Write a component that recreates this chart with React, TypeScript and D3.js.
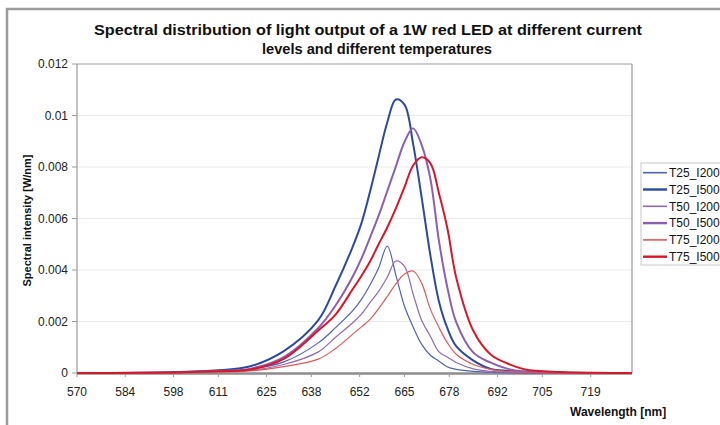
import React from 'react';
import * as d3 from 'd3';

// wavelength grid [nm] shared by all series
const wavelengths = [570, 590, 600, 610, 620, 630, 640, 645, 650, 652.5, 655, 657.5, 660, 662.5, 665, 667.5, 670, 672.5, 675, 677.5, 680, 685, 690, 695, 700, 710, 720, 731];

// spectral intensity [W/nm]
const t25I200 = [0, 0, 0.00001, 0.00006, 0.00014, 0.00043, 0.00117, 0.00176, 0.00242, 0.00286, 0.00342, 0.00408, 0.00493, 0.0038, 0.00259, 0.00179, 0.00111, 0.00069, 0.00046, 0.00023, 0.00014, 0.00006, 0.00003, 0.00001, 0, 0, 0, 0];
const t25I500 = [0, 0.00001, 0.00004, 0.0001, 0.00025, 0.00085, 0.00205, 0.00338, 0.00491, 0.00581, 0.00704, 0.0084, 0.00973, 0.01062, 0.01042, 0.0089, 0.0068, 0.00458, 0.00278, 0.00172, 0.00104, 0.00048, 0.00016, 0.00008, 0.00003, 0.00001, 0, 0];
const t50I200 = [0, 0, 0.00001, 0.00004, 0.0001, 0.00033, 0.00082, 0.00139, 0.00195, 0.00229, 0.00273, 0.00317, 0.00372, 0.00435, 0.00414, 0.00307, 0.00204, 0.00143, 0.00082, 0.00061, 0.00041, 0.00016, 0.00006, 0.00002, 0.00001, 0, 0, 0];
const t50I500 = [0, 0.00001, 0.00003, 0.00008, 0.00016, 0.00062, 0.00175, 0.00262, 0.00375, 0.00444, 0.00526, 0.00611, 0.00706, 0.00802, 0.00897, 0.0095, 0.00885, 0.00755, 0.00513, 0.00328, 0.00198, 0.00079, 0.0004, 0.00016, 0.00006, 0.00001, 0, 0];
const t75I200 = [0, 0, 0.00001, 0.00003, 0.00008, 0.00025, 0.00054, 0.00095, 0.00151, 0.00179, 0.00208, 0.0025, 0.00297, 0.00346, 0.00384, 0.00396, 0.00348, 0.00248, 0.00177, 0.00116, 0.00073, 0.00033, 0.00014, 0.00006, 0.00002, 0, 0, 0];
const t75I500 = [0, 0.00001, 0.00003, 0.00007, 0.00013, 0.00055, 0.00165, 0.00227, 0.00326, 0.00377, 0.00433, 0.005, 0.00565, 0.00639, 0.00722, 0.00806, 0.00838, 0.00815, 0.00698, 0.00558, 0.00371, 0.00163, 0.00072, 0.00036, 0.00014, 0.00004, 0.00001, 0];

const seriesNames = ['T25_I200', 'T25_I500', 'T50_I200', 'T50_I500', 'T75_I200', 'T75_I500'];
const seriesValues = [t25I200, t25I500, t50I200, t50I500, t75I200, t75I500];
const seriesColors = ['#4f63b3', '#2c4a9e', '#9168b2', '#8a5fb5', '#e2585a', '#d7182a'];
const seriesWidths = [1.2, 2, 1.2, 2, 1.2, 2];

const xTickLabels = [570, 584, 598, 611, 625, 638, 652, 665, 678, 692, 705, 719];
const yTickValues = [0, 0.002, 0.004, 0.006, 0.008, 0.01, 0.012];

const font = 'Liberation Sans, Arial, Helvetica, sans-serif';

export default function App() {
  const width = 720;
  const height = 425;
  const plot = { left: 77, top: 64, right: 632, bottom: 373 };

  const x = d3.scaleLinear().domain([570, 731]).range([plot.left, plot.right]);
  const y = d3.scaleLinear().domain([0, 0.012]).range([plot.bottom, plot.top]);

  const line = d3.line<number>()
    .x((_, i) => x(wavelengths[i]))
    .y(d => Math.min(y(d), plot.bottom))
    .curve(d3.curveCatmullRom.alpha(0.5));

  const legendX = 641;
  const legendY = 163;

  return (
    <svg width={width} height={height} style={{ position: 'absolute', left: 0, top: 0, display: 'block', background: '#fff' }} fontFamily={font}>
      {/* outer chart frame */}
      <rect x={7} y={9} width={740} height={440} fill="#fff" stroke="#9c9c9c" strokeWidth={2.5} />

      {/* title */}
      <text x={368} y={35} textAnchor="middle" fontSize={15.5} fontWeight="bold" fill="#111" textLength={548} lengthAdjust="spacingAndGlyphs">
        Spectral distribution of light output of a 1W red LED at different current
      </text>
      <text x={377} y={54} textAnchor="middle" fontSize={15.5} fontWeight="bold" fill="#111" textLength={230} lengthAdjust="spacingAndGlyphs">
        levels and different temperatures
      </text>

      {/* gridlines */}
      {yTickValues.filter(v => v > 0 && v < 0.012).map(v => (
        <line key={`g${v}`} x1={plot.left} x2={plot.right} y1={y(v)} y2={y(v)} stroke="#ebebeb" strokeWidth={1} />
      ))}

      {/* plot border */}
      <line x1={plot.left} x2={plot.right} y1={plot.top} y2={plot.top} stroke="#9a9a9a" strokeWidth={1.2} />
      <line x1={plot.right} x2={plot.right} y1={plot.top} y2={plot.bottom} stroke="#9a9a9a" strokeWidth={1.2} />
      <line x1={plot.left} x2={plot.left} y1={plot.top} y2={plot.bottom} stroke="#9a9a9a" strokeWidth={1.2} />

      {/* y axis */}
      {yTickValues.map(v => (
        <g key={`y${v}`}>
          <line x1={plot.left - 5} x2={plot.left} y1={y(v)} y2={y(v)} stroke="#9a9a9a" />
          <text x={68} y={y(v)} dy="0.35em" textAnchor="end" fontSize={12} fill="#222">{String(v)}</text>
        </g>
      ))}
      <text transform={`translate(31,${(plot.top + plot.bottom) / 2 + 2}) rotate(-90)`} textAnchor="middle" fontSize={11} fontWeight="bold" fill="#111">
        Spectral intensity [W/nm]
      </text>

      {/* x axis (drawn under the series, as in the original) */}
      <line x1={plot.left} x2={plot.right} y1={plot.bottom + 0.5} y2={plot.bottom + 0.5} stroke="#8c8c8c" strokeWidth={2.5} />
      {xTickLabels.map(v => (
        <g key={`x${v}`}>
          <line x1={x(v)} x2={x(v)} y1={plot.bottom} y2={plot.bottom + 4} stroke="#9a9a9a" />
          <text x={x(v)} y={396} textAnchor="middle" fontSize={12} fill="#222">{v}</text>
        </g>
      ))}
      <text x={570} y={416} fontSize={12} fontWeight="bold" fill="#111">Wavelength [nm]</text>

      {/* series */}
      {seriesValues.map((vals, i) => (
        <path key={seriesNames[i]} d={line(vals) || ''} fill="none" stroke={seriesColors[i]} strokeWidth={seriesWidths[i]} strokeLinejoin="round" />
      ))}

      {/* legend */}
      <rect x={legendX} y={legendY} width={90} height={102} fill="#fff" stroke="#c8c8c8" strokeWidth={1} />
      {seriesNames.map((name, i) => {
        const ly = legendY + 9.7 + i * 16.8;
        return (
          <g key={`l${name}`}>
            <line x1={legendX + 2} x2={legendX + 26} y1={ly} y2={ly} stroke={seriesColors[i]} strokeWidth={seriesWidths[i] + 0.4} />
            <text x={legendX + 28} y={ly} dy="0.35em" fontSize={12} fill="#111">{name}</text>
          </g>
        );
      })}
    </svg>
  );
}
